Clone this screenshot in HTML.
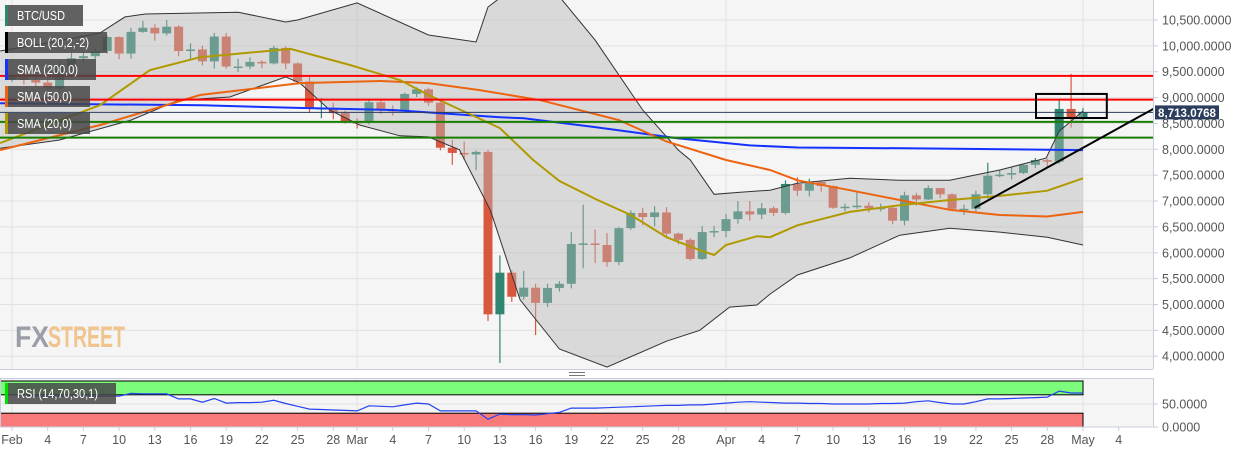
<!DOCTYPE html>
<html><head><meta charset="utf-8"><style>
html,body{margin:0;padding:0;background:#fff;width:1244px;height:454px;overflow:hidden;font-family:"Liberation Sans",sans-serif}
svg{display:block}
</style></head><body>
<svg id="chart" width="1244" height="454" viewBox="0 0 1244 454">
<defs><clipPath id="mainClip"><rect x="0" y="0" width="1153" height="369"/></clipPath>
<clipPath id="rsiClip"><rect x="0" y="378" width="1153" height="49"/></clipPath></defs>
<rect x="0" y="0" width="1153" height="369" fill="#f5f5f5"/>
<rect x="0" y="378" width="1153" height="49" fill="#f5f5f5"/>
<g id="grid"></g>
<g id="main" clip-path="url(#mainClip)"></g>
<g id="rsi" clip-path="url(#rsiClip)"></g>
<g id="axes"></g>
<g id="over"></g>
</svg>
<script>
// ---- data ----
const opens=[9350,9390,9340,9290,9180,9610,9760,9800,9900,10170,9850,10270,10350,10240,10370,9900,9930,9700,10180,9600,9600,9690,9660,9960,9660,9310,8790,8800,8700,
8530,8520,8910,8760,8750,9070,9160,8900,8030,7930,7900,7950,4810,5615,5150,5325,5030,5320,5400,6170,6180,6150,5820,6475,6770,6690,6780,6370,6250,5880,6400,
6420,6650,6800,6740,6860,6770,7330,7200,7370,7290,6870,6890,6910,6860,6870,6620,7110,7030,7250,7130,6850,6850,7130,7490,7510,7540,7700,7790,7760,8780,
8620];
const highs=[9460,9470,9600,9350,9700,9860,9880,9950,10200,10180,10350,10480,10420,10500,10400,10050,10000,10250,10250,9750,9780,9720,10000,9990,9680,9400,8990,8900,8750,
8600,8950,8960,8850,9100,9200,9190,8920,8180,8150,7980,7990,5950,5660,5650,5400,5400,5450,6400,6930,6450,6380,6500,6820,6870,6900,6880,6390,6280,6520,6520,
6750,7000,7000,6960,6900,7400,7460,7430,7400,7300,6950,7180,6980,6950,6920,7180,7160,7300,7250,7150,6930,7200,7740,7610,7650,7710,7830,7820,8980,9460,
8800];
const lows=[9300,9250,9200,9150,9150,9550,9680,9750,9850,9740,9750,10250,10100,10200,9800,9720,9620,9560,9560,9500,9550,9570,9640,9550,9250,8700,8600,8580,8500,
8400,8480,8680,8650,8700,9010,8840,7980,7700,7800,7600,4680,3870,5050,5090,4410,4950,5250,5310,5700,5800,5730,5760,6440,6530,6510,6300,6160,5850,5860,6300,
6300,6560,6620,6650,6710,6740,7100,7090,7180,6850,6800,6850,6780,6800,6550,6530,6910,7020,7050,6800,6730,6800,7040,7460,7420,7520,7640,7670,7720,8420,
8560];
const closes=[9390,9340,9290,9180,9610,9760,9800,9900,10170,9850,10270,10350,10240,10370,9900,9930,9700,10180,9600,9600,9690,9660,9960,9660,9310,8790,8800,8700,8530,
8520,8910,8760,8750,9070,9160,8900,8030,7930,7900,7950,4810,5615,5150,5325,5030,5320,5400,6170,6180,6150,5820,6475,6770,6690,6780,6370,6250,5880,6400,6420,
6650,6800,6740,6860,6770,7330,7200,7370,7290,6870,6890,6910,6860,6870,6620,7110,7030,7250,7130,6850,6850,7130,7490,7510,7540,7700,7790,7760,8780,8620,
8713];
const sma200Days=[-1,16,24,32,41,43,49,56,62,66,75,90];
const sma200Vals=[8890,8850,8800,8760,8620,8600,8430,8210,8075,8035,8020,7985];
const sma50Days=[-1,7.4,15.8,24.2,31,35,39.3,44.4,51,55,60,63.7,66,70.4,74.6,78.8,83,87,90];
const sma50Vals=[7985,8470,9050,9280,9320,9280,9145,8950,8565,8150,7793,7600,7400,7210,7020,6830,6730,6700,6790];
const sma20Days=[-1,7.4,11.6,15.8,23.4,28.4,32.6,35,41,43.8,46,49.2,52,55,57.8,59,60,62.6,63.7,66,70.4,74.6,78.8,83,87,90];
const sma20Vals=[8120,8855,9530,9780,9940,9630,9340,9050,8410,7793,7387,7020,6730,6300,6050,5957,6150,6320,6300,6530,6790,6920,7020,7100,7200,7440];
const upperDays=[-1,4,7.4,9.5,11.2,19,23,24,29,35,39,40,42,44,46,49,53,56,57,59,61.2,63.7,66,70.4,74.6,78.8,83,86.9,88,89,90];
const upperVals=[9900,10100,10250,10560,10615,10650,10460,10500,10830,10210,10075,10750,11100,11050,10950,10110,8760,7985,7793,7130,7170,7210,7345,7440,7400,7400,7600,7830,8350,8545,8740];
const lowerDays=[-1,4,10,14,18.3,23,24.2,26.7,29.2,32.6,35,37.6,40.2,42.7,46,50,55,57.8,60.3,62.6,63.7,66,70.4,74.6,78.8,83,87,90];
const lowerVals=[8020,8180,8565,8950,9010,9400,9280,8760,8470,8260,8240,7990,6820,5090,4140,3790,4290,4500,4950,4990,5200,5570,5900,6340,6475,6400,6300,6150];
const rsiVals=[70,69,67,67,67,67,67,67,67,67,73,72,72,72,61,61,54,62,52,53,53,54,58,51,45,39,38,37,36,35,46,45,44,48,52,50,35,35,35,35,17,28,27,27,26,29,32,41,41,41,42,43,44,45,46,47,47,48,48,50,52,54,55,54,53,52,52,51,51,50,50,50,50,51,51,52,55,57,53,50,50,55,61,61,62,63,64,65,78,74,74];
const priceTicks=[10500,10000,9500,9000,8500,8000,7500,7000,6500,6000,5500,5000,4500,4000];
const xTickDays=[0,3,6,9,12,15,18,21,24,27,29,32,35,38,41,44,47,50,53,56,60,63,66,69,72,75,78,81,84,87,90,93];
const xTickLabels=["Feb","4","7","10","13","16","19","22","25","28","Mar","4","7","10","13","16","19","22","25","28","Apr","4","7","10","13","16","19","22","25","28","May","4"];
const resistanceLevels=[9420,8960];
const supportLevels=[8530,8225];
const lastPrice=8713.0768;
const trendDays=[80.9,95.9];
const trendVals=[6870,8780];
const boxDays=[86.05,92];
const boxVals=[9070,8605];

// ---- scales ----
const X=d=>12+d*11.9;
const Y=v=>71.7+(9500-v)*0.05173;
const RY=v=>427-v*0.46;
const NS="http://www.w3.org/2000/svg";
function mk(tag,attrs,parent){const e=document.createElementNS(NS,tag);for(const k in attrs)e.setAttribute(k,attrs[k]);parent.appendChild(e);return e;}
const grid=document.getElementById('grid'),main=document.getElementById('main'),rsiG=document.getElementById('rsi'),axes=document.getElementById('axes'),over=document.getElementById('over');
const fmt=v=>v.toLocaleString('en-US',{minimumFractionDigits:4,maximumFractionDigits:4});

priceTicks.forEach(v=>{
  let l=mk('line',{x1:0,x2:1153,y1:Y(v),y2:Y(v),stroke:'#e1e1e4','stroke-width':1},grid);
  
  
  let t=mk('line',{x1:1153,x2:1158,y1:Y(v),y2:Y(v),stroke:'#c8cede'},axes);
  
  
  let tx=mk('text',{x:1162,y:Y(v)+4.5,'font-size':12.5,fill:'#555'},axes);
  tx.textContent=fmt(v);
  
  
});
[0,29,60,90].forEach(d=>{
  let l=mk('line',{x1:X(d),x2:X(d),y1:0,y2:369,stroke:'#e1e1e4'},grid);
  
  
  let l2=mk('line',{x1:X(d),x2:X(d),y1:378,y2:427,stroke:'#e1e1e4'},grid);
  
  
});
for(let i=0;i<closes.length;i++){
  const up=closes[i]>=opens[i];const col=up?'#2f8570':'#d9573f';
  const g=mk('g',{},main);
  
  
  mk('line',{x1:X(i),x2:X(i),y1:Y(highs[i]),y2:Y(lows[i]),stroke:col,'stroke-width':1.2},g);
  const top=Y(Math.max(opens[i],closes[i])),bot=Y(Math.min(opens[i],closes[i]));
  mk('rect',{x:X(i)-4.5,y:top,width:9,height:Math.max(1.5,bot-top),fill:col},g);
}
function pts(days,vals){return days.map((d,i)=>X(d).toFixed(1)+','+Y(vals[i]).toFixed(1));}
const poly=pts(upperDays,upperVals).concat(pts(lowerDays,lowerVals).reverse()).join(' ');
const bf=mk('polygon',{points:poly,fill:'rgba(185,185,185,0.45)'},main);


const bu=mk('polyline',{points:pts(upperDays,upperVals).join(' '),fill:'none',stroke:'#333','stroke-width':1},main);


const bl=mk('polyline',{points:pts(lowerDays,lowerVals).join(' '),fill:'none',stroke:'#333','stroke-width':1},main);


const s200=mk('polyline',{points:pts(sma200Days,sma200Vals).join(' '),fill:'none',stroke:'#1432ff','stroke-width':2},main);


const s50=mk('polyline',{points:pts(sma50Days,sma50Vals).join(' '),fill:'none',stroke:'#ec6410','stroke-width':2},main);


const s20=mk('polyline',{points:pts(sma20Days,sma20Vals).join(' '),fill:'none',stroke:'#b09a00','stroke-width':2},main);


resistanceLevels.forEach(v=>{
  let l=mk('line',{x1:0,x2:1153,y1:Y(v),y2:Y(v),stroke:'#ff0000','stroke-width':2},main);
  
  
});
supportLevels.forEach(v=>{
  let l=mk('line',{x1:0,x2:1153,y1:Y(v),y2:Y(v),stroke:'#1a7d00','stroke-width':2},main);
  
  
});
const pl=mk('line',{x1:0,x2:1153,y1:Y(lastPrice),y2:Y(lastPrice),stroke:'#2b3d5c','stroke-width':1},main);


const tl=mk('line',{x1:X(trendDays[0]),y1:Y(trendVals[0]),x2:X(trendDays[1]),y2:Y(trendVals[1]),stroke:'#000','stroke-width':2},over);


const bx=mk('rect',{x:X(boxDays[0]),y:Y(boxVals[0]),width:X(boxDays[1])-X(boxDays[0]),height:Y(boxVals[1])-Y(boxVals[0]),fill:'none',stroke:'#000','stroke-width':2},over);


const lb=mk('rect',{x:1155,y:Y(lastPrice)-7,width:64,height:14,fill:'#2b3d5c'},over);


const lt=mk('text',{x:1158,y:Y(lastPrice)+4.5,'font-size':12,'font-weight':'bold',fill:'#fff',textLength:58,lengthAdjust:'spacingAndGlyphs'},over);
lt.textContent=fmt(lastPrice);


const gb=mk('rect',{x:0,y:RY(100),width:X(90),height:RY(70)-RY(100),fill:'#7dfb7d',stroke:'#000','stroke-width':1},rsiG);


const rb=mk('rect',{x:0,y:RY(30),width:X(90),height:RY(0)-RY(30),fill:'#f87a7a',stroke:'#000','stroke-width':1},rsiG);


const rl=mk('polyline',{points:rsiVals.map((v,i)=>X(i).toFixed(1)+','+RY(v).toFixed(1)).join(' '),fill:'none',stroke:'#2442f0','stroke-width':1.2},rsiG);


[[50,'50.0000'],[0,'0.0000']].forEach(([v,s])=>{
  let t=mk('line',{x1:1153,x2:1158,y1:RY(v),y2:RY(v),stroke:'#c8cede'},axes);
  
  
  let g=mk('line',{x1:0,x2:1153,y1:RY(v),y2:RY(v),stroke:'#e1e1e4'},grid);
  
  
  let tx=mk('text',{x:1162,y:RY(v)+4.5,'font-size':12.5,fill:'#555'},axes);
  tx.textContent=s;
  
  
});
xTickDays.forEach((d,i)=>{
  let t=mk('line',{x1:X(d),x2:X(d),y1:427,y2:431,stroke:'#c8cede'},axes);
  
  
  let tx=mk('text',{x:X(d),y:444,'font-size':12.5,fill:'#555','text-anchor':'middle'},axes);
  tx.textContent=xTickLabels[i];
  
  
});
</script>
<div style="position:absolute;left:0;top:0;width:1244px;height:454px;pointer-events:none">
<svg width="1244" height="454" style="position:absolute;left:0;top:0">
<line x1="1153.5" y1="0" x2="1153.5" y2="369" stroke="#c8cede"/>
<line x1="0" y1="369.5" x2="1153" y2="369.5" stroke="#c8cede"/>
<rect x="0.5" y="378.5" width="1153" height="48.5" fill="none" stroke="#c8cede"/>
<g><line x1="569" x2="585" y1="372.5" y2="372.5" stroke="#777"/><line x1="569" x2="585" y1="375.5" y2="375.5" stroke="#777"/></g>
<text x="15" y="347" font-size="30" font-weight="bold" fill="#9a9ea6" textLength="34" lengthAdjust="spacingAndGlyphs" font-family="Liberation Sans Narrow, Liberation Sans, sans-serif">FX</text>
<text x="48" y="347" font-size="30" font-weight="bold" fill="#f2c48d" textLength="77" lengthAdjust="spacingAndGlyphs" font-family="Liberation Sans Narrow, Liberation Sans, sans-serif">STREET</text>
<g><rect x="5" y="5" width="78" height="21" fill="rgba(70,70,70,0.85)"/><rect x="5" y="5" width="3" height="21" fill="#2f8570"/><text x="17" y="20" font-size="12.5" fill="#fff" textLength="48" lengthAdjust="spacingAndGlyphs">BTC/USD</text></g>
<g><rect x="5" y="32" width="102" height="21" fill="rgba(70,70,70,0.85)"/><rect x="5" y="32" width="3" height="21" fill="#000"/><text x="17" y="47" font-size="12.5" fill="#fff" textLength="72" lengthAdjust="spacingAndGlyphs">BOLL (20,2,-2)</text></g>
<g><rect x="5" y="59" width="91" height="21" fill="rgba(70,70,70,0.85)"/><rect x="5" y="59" width="3" height="21" fill="#1432ff"/><text x="17" y="74" font-size="12.5" fill="#fff" textLength="61" lengthAdjust="spacingAndGlyphs">SMA (200,0)</text></g>
<g><rect x="5" y="86" width="85" height="21" fill="rgba(70,70,70,0.85)"/><rect x="5" y="86" width="3" height="21" fill="#ec6410"/><text x="17" y="101" font-size="12.5" fill="#fff" textLength="55" lengthAdjust="spacingAndGlyphs">SMA (50,0)</text></g>
<g><rect x="5" y="113" width="85" height="21" fill="rgba(70,70,70,0.85)"/><rect x="5" y="113" width="3" height="21" fill="#b09a00"/><text x="17" y="128" font-size="12.5" fill="#fff" textLength="55" lengthAdjust="spacingAndGlyphs">SMA (20,0)</text></g>
<g><rect x="5" y="383" width="111" height="21" fill="rgba(70,70,70,0.85)"/><rect x="5" y="383" width="3" height="21" fill="#00e000"/><text x="17" y="398" font-size="12.5" fill="#fff" textLength="81" lengthAdjust="spacingAndGlyphs">RSI (14,70,30,1)</text></g>
</svg></div>
</body></html>
